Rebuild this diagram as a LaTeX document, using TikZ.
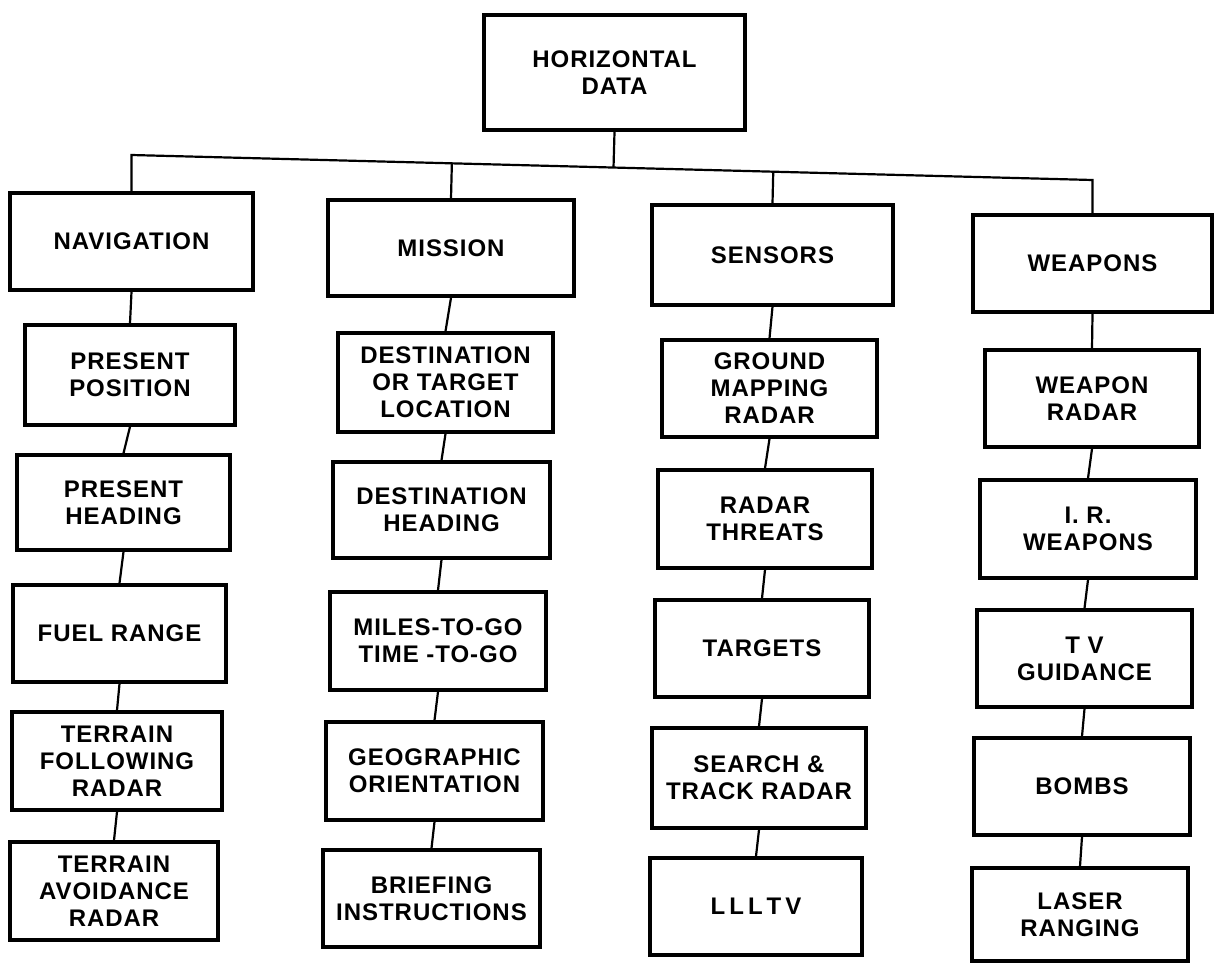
\documentclass[tikz,border=0pt]{standalone}
\usepackage{fontspec}
\setmainfont[LetterSpace=4]{Liberation Sans}
\usetikzlibrary{calc}
\tikzset{
  box/.style={draw=black, line width=3.5pt, fill=white, inner sep=0pt, align=center,
    font=\fontsize{24}{27}\selectfont\bfseries},
  conn/.style={draw=black, line width=2.2pt},
}
\newcommand\bx[6]{\node[box, minimum width={#4-#2}, minimum height={#5-#3}] (#1) at ({(#2+#4)/2},{(#3+#5)/2}) {#6};}
\begin{document}
\begin{tikzpicture}[x=1pt,y=-1pt]
\useasboundingbox (0,0) rectangle (1214,963);
\fill[white] (0,0) rectangle (1214,963);
% top
\bx{hd}{484}{15}{745}{130}{HORIZONTAL\\DATA}
% column 1
\bx{nav}{10}{193}{253}{290}{NAVIGATION}
\bx{pp}{25}{325}{235}{425}{PRESENT\\POSITION}
\bx{ph}{17}{455}{230}{550}{PRESENT\\HEADING}
\bx{fr}{13}{585}{226}{682}{FUEL RANGE}
\bx{tf}{12}{712}{222}{810}{TERRAIN\\FOLLOWING\\RADAR}
\bx{ta}{10}{842}{218}{940}{TERRAIN\\AVOIDANCE\\RADAR}
% column 2
\bx{mis}{328}{200}{574}{296}{MISSION}
\bx{dt}{338}{333}{553}{432}{DESTINATION\\OR TARGET\\LOCATION}
\bx{dh}{333}{462}{550}{558}{DESTINATION\\HEADING}
\bx{mg}{330}{592}{546}{690}{MILES-TO-GO\\TIME -TO-GO}
\bx{go}{326}{722}{543}{820}{GEOGRAPHIC\\ORIENTATION}
\bx{bi}{323}{850}{540}{947}{BRIEFING\\INSTRUCTIONS}
% column 3
\bx{sen}{652}{205}{893}{305}{SENSORS}
\bx{gm}{662}{340}{877}{437}{GROUND\\MAPPING\\RADAR}
\bx{rt}{658}{470}{872}{568}{RADAR\\THREATS}
\bx{tg}{655}{600}{869}{697}{TARGETS}
\bx{st}{652}{728}{866}{828}{SEARCH \&\\TRACK RADAR}
\bx{ll}{650}{858}{862}{955}{L\,L\,L\,T\,V}
% column 4
\bx{wea}{973}{215}{1212}{312}{WEAPONS}
\bx{wr}{985}{350}{1199}{447}{WEAPON\\RADAR}
\bx{ir}{980}{480}{1196}{578}{I. R.\\WEAPONS}
\bx{tv}{977}{610}{1192}{707}{T V\\GUIDANCE}
\bx{bo}{974}{738}{1190}{835}{BOMBS}
\bx{lr}{972}{868}{1188}{961}{LASER\\RANGING}
% bus
\coordinate (busL) at (nav.north |- 0,155);
\coordinate (busR) at (wea.north |- 0,180);
\draw[conn] (nav.north) -- (busL) -- (busR) -- (wea.north);
\draw[conn] (hd.south) -- ($(busL)!(hd.south)!(busR)$);
\draw[conn] (mis.north) -- ($(busL)!(mis.north)!(busR)$);
\draw[conn] (sen.north) -- ($(busL)!(sen.north)!(busR)$);
% column connectors
\foreach \a/\b in {nav/pp,pp/ph,ph/fr,fr/tf,tf/ta,
                   mis/dt,dt/dh,dh/mg,mg/go,go/bi,
                   sen/gm,gm/rt,rt/tg,tg/st,st/ll,
                   wea/wr,wr/ir,ir/tv,tv/bo,bo/lr}
  \draw[conn] (\a.south) -- (\b.north);
\end{tikzpicture}
\end{document}
